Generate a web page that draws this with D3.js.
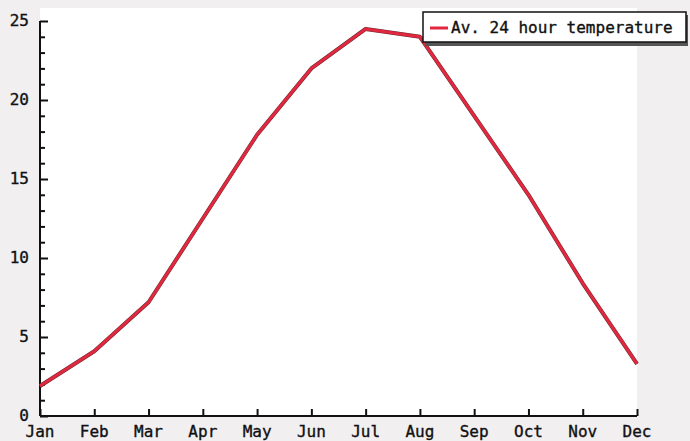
<!DOCTYPE html>
<html><head><meta charset="utf-8">
<script src="https://cdn.jsdelivr.net/npm/d3@7"></script>
<style>
html,body{margin:0;padding:0;background:#f2eff1;}
svg{display:block;}
text{font-family:"DejaVu Sans Mono",monospace;font-size:16px;fill:#111;stroke:#111;stroke-width:0.35px;}
</style></head>
<body>
<svg id="c" width="690" height="441"></svg>
<script>
const months = ["Jan","Feb","Mar","Apr","May","Jun","Jul","Aug","Sep","Oct","Nov","Dec"];
const temperature = [1.9, 4.1, 7.2, 12.5, 17.8, 22.0, 24.5, 24.0, 19.0, 14.0, 8.4, 3.3];
const yTicks = [0, 5, 10, 15, 20, 25];
const seriesName = "Av. 24 hour temperature";

const svg = d3.select("#c");
const mLeft = 40, mRight = 637, mTop = 21, mBottom = 416;

const x = d3.scalePoint().domain(months).range([mLeft, mRight]);
const y = d3.scaleLinear().domain([0, 25]).range([mBottom, mTop]);

// plot background
svg.append("rect").attr("x", mLeft).attr("y", 8).attr("width", mRight - mLeft).attr("height", mBottom - 8).attr("fill", "#fff");

// y axis
const yAxis = d3.axisRight(y).tickValues(d3.range(0, 26, 1)).tickSize(6).tickFormat("");
const gy = svg.append("g").attr("transform", `translate(${mLeft},0)`).call(yAxis);
gy.select(".domain").attr("d", `M0,${mTop}V${mBottom}`).attr("stroke", "#111").attr("stroke-width", 2);
gy.selectAll(".tick line").attr("stroke", "#111").attr("stroke-width", 2)
  .attr("x2", d => d % 5 === 0 ? 8 : 5);
svg.append("g").selectAll("text").data(yTicks).join("text")
  .attr("x", 29).attr("y", d => y(d) + 5).attr("text-anchor", "end").text(d => d);

// x axis
const xAxis = d3.axisTop(x).tickSize(7).tickFormat("");
const gx = svg.append("g").attr("transform", `translate(0,${mBottom})`).call(xAxis);
gx.select(".domain").attr("d", `M${mLeft},0H${mRight}`).attr("stroke", "#111").attr("stroke-width", 2);
gx.selectAll(".tick line").attr("stroke", "#111").attr("stroke-width", 2);
svg.append("g").selectAll("text").data(months).join("text")
  .attr("x", d => x(d)).attr("y", 437).attr("text-anchor", "middle").text(d => d);

// line
const line = d3.line().x((d, i) => x(months[i])).y(d => y(d));
svg.append("path").datum(temperature).attr("d", line).attr("fill", "none")
  .attr("stroke", "#6a2a33").attr("stroke-width", 4).attr("stroke-linejoin", "round");
svg.append("path").datum(temperature).attr("d", line).attr("fill", "none")
  .attr("stroke", "#e2283f").attr("stroke-width", 3).attr("stroke-linejoin", "round");

// legend
const lg = svg.append("g");
lg.append("rect").attr("x", 425).attr("y", 15).attr("width", 263).attr("height", 31).attr("fill", "#555");
lg.append("rect").attr("x", 423).attr("y", 12).attr("width", 263).attr("height", 30).attr("fill", "#fff").attr("stroke", "#111").attr("stroke-width", 1.5);
lg.append("line").attr("x1", 430).attr("x2", 448).attr("y1", 28).attr("y2", 28).attr("stroke", "#e2283f").attr("stroke-width", 3);
lg.append("text").attr("x", 451).attr("y", 33).text(seriesName);
</script>
</body></html>
